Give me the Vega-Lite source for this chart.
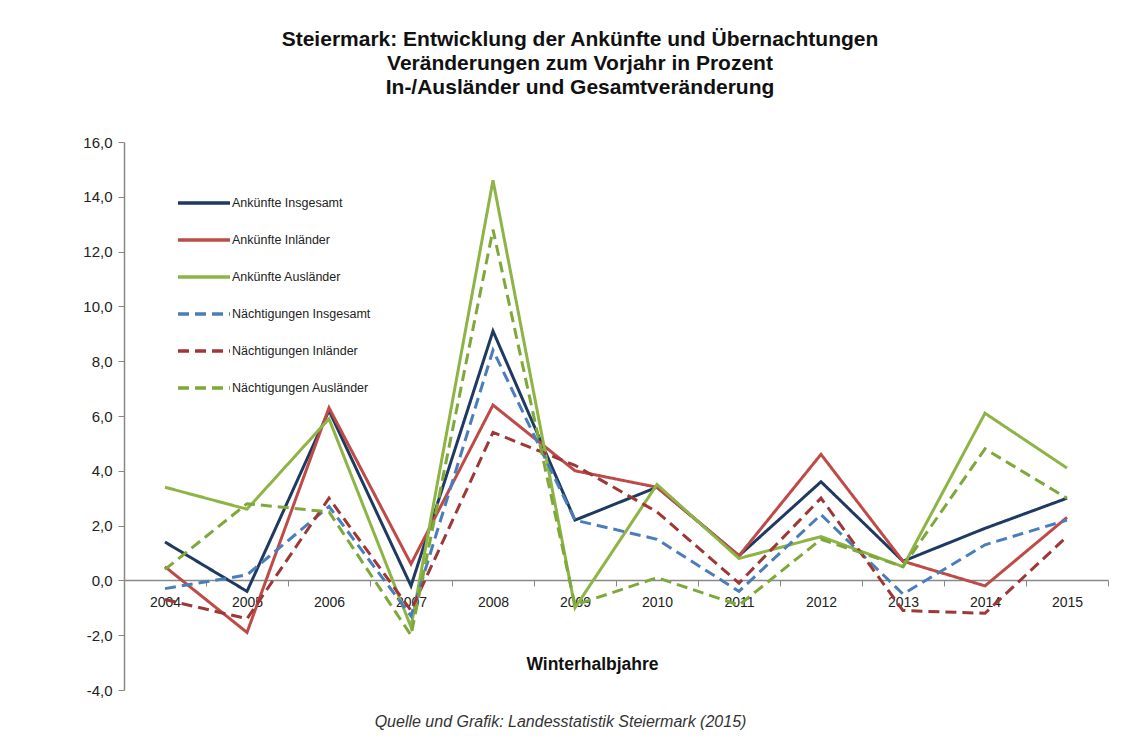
{
  "$schema": "https://vega.github.io/schema/vega-lite/v6.json",
  "autosize": {"type": "none"},
  "width": 984,
  "height": 548,
  "padding": {"left": 124, "top": 142, "right": 16, "bottom": 54},
  "background": "white",
  "config": {
    "view": {"stroke": null},
    "font": "Liberation Sans"
  },
  "title": {
    "text": ["Steiermark: Entwicklung der Ankünfte und Übernachtungen", "Veränderungen zum Vorjahr in Prozent", "In-/Ausländer und Gesamtveränderung"],
    "font": "Liberation Sans",
    "fontSize": 21,
    "fontWeight": "bold",
    "color": "#111111",
    "lineHeight": 24,
    "anchor": "middle",
    "dx": -36,
    "offset": 37
  },
  "data": {
    "values": [
      {"year": "2004", "series": "Ankünfte Insgesamt", "value": 1.4},
      {"year": "2005", "series": "Ankünfte Insgesamt", "value": -0.4},
      {"year": "2006", "series": "Ankünfte Insgesamt", "value": 6.2},
      {"year": "2007", "series": "Ankünfte Insgesamt", "value": -0.2},
      {"year": "2008", "series": "Ankünfte Insgesamt", "value": 9.1},
      {"year": "2009", "series": "Ankünfte Insgesamt", "value": 2.2},
      {"year": "2010", "series": "Ankünfte Insgesamt", "value": 3.4},
      {"year": "2011", "series": "Ankünfte Insgesamt", "value": 0.9},
      {"year": "2012", "series": "Ankünfte Insgesamt", "value": 3.6},
      {"year": "2013", "series": "Ankünfte Insgesamt", "value": 0.7},
      {"year": "2014", "series": "Ankünfte Insgesamt", "value": 1.9},
      {"year": "2015", "series": "Ankünfte Insgesamt", "value": 3.0},
      {"year": "2004", "series": "Ankünfte Inländer", "value": 0.5},
      {"year": "2005", "series": "Ankünfte Inländer", "value": -1.9},
      {"year": "2006", "series": "Ankünfte Inländer", "value": 6.3},
      {"year": "2007", "series": "Ankünfte Inländer", "value": 0.6},
      {"year": "2008", "series": "Ankünfte Inländer", "value": 6.4},
      {"year": "2009", "series": "Ankünfte Inländer", "value": 4.0},
      {"year": "2010", "series": "Ankünfte Inländer", "value": 3.4},
      {"year": "2011", "series": "Ankünfte Inländer", "value": 0.9},
      {"year": "2012", "series": "Ankünfte Inländer", "value": 4.6},
      {"year": "2013", "series": "Ankünfte Inländer", "value": 0.7},
      {"year": "2014", "series": "Ankünfte Inländer", "value": -0.2},
      {"year": "2015", "series": "Ankünfte Inländer", "value": 2.3},
      {"year": "2004", "series": "Ankünfte Ausländer", "value": 3.4},
      {"year": "2005", "series": "Ankünfte Ausländer", "value": 2.6},
      {"year": "2006", "series": "Ankünfte Ausländer", "value": 5.9},
      {"year": "2007", "series": "Ankünfte Ausländer", "value": -1.7},
      {"year": "2008", "series": "Ankünfte Ausländer", "value": 14.6},
      {"year": "2009", "series": "Ankünfte Ausländer", "value": -1.0},
      {"year": "2010", "series": "Ankünfte Ausländer", "value": 3.5},
      {"year": "2011", "series": "Ankünfte Ausländer", "value": 0.8},
      {"year": "2012", "series": "Ankünfte Ausländer", "value": 1.6},
      {"year": "2013", "series": "Ankünfte Ausländer", "value": 0.5},
      {"year": "2014", "series": "Ankünfte Ausländer", "value": 6.1},
      {"year": "2015", "series": "Ankünfte Ausländer", "value": 4.1},
      {"year": "2004", "series": "Nächtigungen Insgesamt", "value": -0.3},
      {"year": "2005", "series": "Nächtigungen Insgesamt", "value": 0.2},
      {"year": "2006", "series": "Nächtigungen Insgesamt", "value": 2.7},
      {"year": "2007", "series": "Nächtigungen Insgesamt", "value": -1.3},
      {"year": "2008", "series": "Nächtigungen Insgesamt", "value": 8.4},
      {"year": "2009", "series": "Nächtigungen Insgesamt", "value": 2.2},
      {"year": "2010", "series": "Nächtigungen Insgesamt", "value": 1.5},
      {"year": "2011", "series": "Nächtigungen Insgesamt", "value": -0.4},
      {"year": "2012", "series": "Nächtigungen Insgesamt", "value": 2.4},
      {"year": "2013", "series": "Nächtigungen Insgesamt", "value": -0.5},
      {"year": "2014", "series": "Nächtigungen Insgesamt", "value": 1.3},
      {"year": "2015", "series": "Nächtigungen Insgesamt", "value": 2.2},
      {"year": "2004", "series": "Nächtigungen Inländer", "value": -0.7},
      {"year": "2005", "series": "Nächtigungen Inländer", "value": -1.4},
      {"year": "2006", "series": "Nächtigungen Inländer", "value": 3.0},
      {"year": "2007", "series": "Nächtigungen Inländer", "value": -1.1},
      {"year": "2008", "series": "Nächtigungen Inländer", "value": 5.4},
      {"year": "2009", "series": "Nächtigungen Inländer", "value": 4.2},
      {"year": "2010", "series": "Nächtigungen Inländer", "value": 2.5},
      {"year": "2011", "series": "Nächtigungen Inländer", "value": -0.1},
      {"year": "2012", "series": "Nächtigungen Inländer", "value": 3.0},
      {"year": "2013", "series": "Nächtigungen Inländer", "value": -1.1},
      {"year": "2014", "series": "Nächtigungen Inländer", "value": -1.2},
      {"year": "2015", "series": "Nächtigungen Inländer", "value": 1.6},
      {"year": "2004", "series": "Nächtigungen Ausländer", "value": 0.4},
      {"year": "2005", "series": "Nächtigungen Ausländer", "value": 2.8},
      {"year": "2006", "series": "Nächtigungen Ausländer", "value": 2.5},
      {"year": "2007", "series": "Nächtigungen Ausländer", "value": -2.0},
      {"year": "2008", "series": "Nächtigungen Ausländer", "value": 12.8},
      {"year": "2009", "series": "Nächtigungen Ausländer", "value": -0.9},
      {"year": "2010", "series": "Nächtigungen Ausländer", "value": 0.1},
      {"year": "2011", "series": "Nächtigungen Ausländer", "value": -0.9},
      {"year": "2012", "series": "Nächtigungen Ausländer", "value": 1.5},
      {"year": "2013", "series": "Nächtigungen Ausländer", "value": 0.5},
      {"year": "2014", "series": "Nächtigungen Ausländer", "value": 4.8},
      {"year": "2015", "series": "Nächtigungen Ausländer", "value": 3.0}
    ]
  },
  "resolve": {"axis": {"x": "independent", "y": "independent"}},
  "layer": [
    {
      "mark": {"type": "line", "opacity": 0},
      "encoding": {
        "x": {
          "field": "year",
          "type": "ordinal",
          "bandPosition": 0.5,
          "scale": {"type": "band", "paddingInner": 0, "paddingOuter": 0},
          "axis": {
            "orient": "bottom",
            "labels": false,
            "ticks": false,
            "domain": false,
            "grid": false,
            "title": "Quelle und Grafik: Landesstatistik Steiermark (2015)",
            "titleFontSize": 16,
            "titleFontStyle": "italic",
            "titleFontWeight": "normal",
            "titleColor": "#333333",
            "titleX": 436,
            "titleY": 31,
            "titleBaseline": "middle"
          }
        },
        "y": {"field": "value", "type": "quantitative", "axis": null},
        "detail": {"field": "series"}
      }
    },
    {
      "mark": {"type": "line", "strokeWidth": 3},
      "encoding": {
        "x": {
          "field": "year",
          "type": "ordinal",
          "bandPosition": 0.5,
          "scale": {"type": "band", "paddingInner": 0, "paddingOuter": 0},
          "axis": {
            "orient": "bottom",
            "offset": -110,
            "labelAngle": 0,
            "labelFontSize": 14,
            "labelColor": "#222222",
            "labelPadding": 9,
            "tickBand": "extent",
            "tickSize": 6,
            "tickColor": "#888888",
            "domainColor": "#888888",
            "domainWidth": 1.5,
            "grid": false,
            "title": "Winterhalbjahre",
            "titleFontSize": 17.5,
            "titleFontWeight": "bold",
            "titleColor": "#111111",
            "titleX": 468,
            "titleY": 84,
            "titleBaseline": "middle"
          }
        },
        "y": {
          "field": "value",
          "type": "quantitative",
          "scale": {"domain": [-4, 16], "nice": false, "zero": false},
          "axis": {
            "values": [-4, -2, 0, 2, 4, 6, 8, 10, 12, 14, 16],
            "labelExpr": "replace(replace(format(datum.value, '.1f'), '.', ','), '\u2212', '-')",
            "labelFontSize": 15,
            "labelColor": "#222222",
            "labelPadding": 6,
            "tickSize": 6,
            "tickColor": "#888888",
            "domainColor": "#888888",
            "domainWidth": 1.5,
            "gridColor": "#D4D4D4",
            "gridWidth": 1.5,
            "title": null
          }
        },
        "color": {
          "field": "series",
          "type": "nominal",
          "scale": {
            "domain": ["Ankünfte Insgesamt", "Ankünfte Inländer", "Ankünfte Ausländer", "Nächtigungen Insgesamt", "Nächtigungen Inländer", "Nächtigungen Ausländer"],
            "range": ["#1F3A60", "#BE4B48", "#8DB445", "#4A7EBB", "#9E3735", "#7EA83A"]
          },
          "legend": {
            "title": null,
            "orient": "none",
            "legendX": 52,
            "legendY": 51,
            "symbolType": "stroke",
            "symbolSize": 2704,
            "symbolStrokeWidth": 3.5,
            "clipHeight": 20,
            "rowPadding": 17,
            "labelFontSize": 12.5,
            "labelColor": "#222222",
            "labelOffset": 0
          }
        },
        "strokeDash": {
          "field": "series",
          "type": "nominal",
          "scale": {
            "domain": ["Ankünfte Insgesamt", "Ankünfte Inländer", "Ankünfte Ausländer", "Nächtigungen Insgesamt", "Nächtigungen Inländer", "Nächtigungen Ausländer"],
            "range": [[1, 0], [1, 0], [1, 0], [11, 6], [11, 6], [11, 6]]
          },
          "legend": {
            "title": null,
            "orient": "none",
            "legendX": 52,
            "legendY": 51,
            "symbolType": "stroke",
            "symbolSize": 2704,
            "symbolStrokeWidth": 3.5,
            "clipHeight": 20,
            "rowPadding": 17,
            "labelFontSize": 12.5,
            "labelColor": "#222222",
            "labelOffset": 0
          }
        }
      }
    }
  ]
}
